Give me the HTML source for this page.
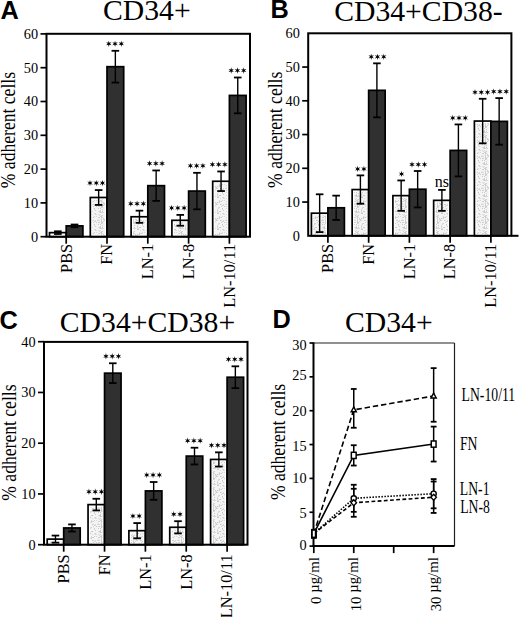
<!DOCTYPE html>
<html><head><meta charset="utf-8"><title>Adhesion of CD34+ cells</title>
<style>html,body{margin:0;padding:0;background:#fff;}body{width:520px;height:617px;overflow:hidden;font-family:"Liberation Sans",sans-serif;}svg{display:block;}</style>
</head><body>
<svg width="520" height="617" viewBox="0 0 520 617">
<rect width="520" height="617" fill="#fff"/>
<defs><pattern id="stip" patternUnits="userSpaceOnUse" width="16" height="16"><rect width="16" height="16" fill="#f4f4f4"/><rect x="4" y="2" width="1" height="1" fill="#cbcbcb"/><rect x="5" y="11" width="1" height="1" fill="#d2d2d2"/><rect x="8" y="12" width="1" height="1" fill="#cbcbcb"/><rect x="10" y="5" width="1" height="1" fill="#cbcbcb"/><rect x="5" y="15" width="1" height="1" fill="#cbcbcb"/><rect x="15" y="5" width="1" height="1" fill="#d2d2d2"/><rect x="2" y="6" width="1" height="1" fill="#dadada"/><rect x="6" y="15" width="1" height="1" fill="#dadada"/><rect x="14" y="13" width="1" height="1" fill="#d2d2d2"/><rect x="11" y="3" width="1" height="1" fill="#cbcbcb"/><rect x="15" y="12" width="1" height="1" fill="#dadada"/><rect x="11" y="15" width="1" height="1" fill="#d2d2d2"/><rect x="2" y="11" width="1" height="1" fill="#dadada"/><rect x="5" y="4" width="1" height="1" fill="#d2d2d2"/><rect x="5" y="7" width="1" height="1" fill="#dadada"/><rect x="6" y="14" width="1" height="1" fill="#cbcbcb"/><rect x="10" y="0" width="1" height="1" fill="#d2d2d2"/><rect x="13" y="9" width="1" height="1" fill="#cbcbcb"/><rect x="11" y="9" width="1" height="1" fill="#cbcbcb"/><rect x="15" y="13" width="1" height="1" fill="#dadada"/><rect x="10" y="15" width="1" height="1" fill="#dadada"/><rect x="15" y="2" width="1" height="1" fill="#cbcbcb"/><rect x="14" y="8" width="1" height="1" fill="#d2d2d2"/><rect x="5" y="14" width="1" height="1" fill="#cbcbcb"/><rect x="9" y="12" width="1" height="1" fill="#d2d2d2"/><rect x="7" y="10" width="1" height="1" fill="#d2d2d2"/><rect x="11" y="10" width="1" height="1" fill="#d2d2d2"/><rect x="5" y="13" width="1" height="1" fill="#cbcbcb"/><rect x="3" y="7" width="1" height="1" fill="#d2d2d2"/><rect x="3" y="4" width="1" height="1" fill="#dadada"/><rect x="2" y="12" width="1" height="1" fill="#dadada"/><rect x="4" y="0" width="1" height="1" fill="#cbcbcb"/><rect x="9" y="1" width="1" height="1" fill="#dadada"/><rect x="7" y="4" width="1" height="1" fill="#dadada"/><rect x="6" y="3" width="1" height="1" fill="#cbcbcb"/><rect x="5" y="8" width="1" height="1" fill="#cbcbcb"/><rect x="9" y="5" width="1" height="1" fill="#cbcbcb"/><rect x="3" y="12" width="1" height="1" fill="#dadada"/><rect x="9" y="3" width="1" height="1" fill="#dadada"/><rect x="14" y="5" width="1" height="1" fill="#dadada"/><rect x="9" y="2" width="1" height="1" fill="#cbcbcb"/><rect x="1" y="12" width="1" height="1" fill="#d2d2d2"/><rect x="14" y="0" width="1" height="1" fill="#cbcbcb"/><rect x="8" y="11" width="1" height="1" fill="#cbcbcb"/><rect x="7" y="11" width="1" height="1" fill="#d2d2d2"/><rect x="6" y="4" width="1" height="1" fill="#dadada"/><rect x="6" y="1" width="1" height="1" fill="#cbcbcb"/><rect x="13" y="12" width="1" height="1" fill="#d2d2d2"/><rect x="5" y="10" width="1" height="1" fill="#dadada"/><rect x="3" y="9" width="1" height="1" fill="#d2d2d2"/><rect x="3" y="3" width="1" height="1" fill="#d2d2d2"/><rect x="9" y="10" width="1" height="1" fill="#cbcbcb"/><rect x="2" y="9" width="1" height="1" fill="#d2d2d2"/><rect x="2" y="3" width="1" height="1" fill="#dadada"/><rect x="4" y="3" width="1" height="1" fill="#cbcbcb"/><rect x="0" y="14" width="1" height="1" fill="#cbcbcb"/><rect x="0" y="8" width="1" height="1" fill="#dadada"/><rect x="10" y="4" width="1" height="1" fill="#dadada"/><rect x="2" y="14" width="1" height="1" fill="#d2d2d2"/><rect x="12" y="6" width="1" height="1" fill="#dadada"/><rect x="6" y="9" width="1" height="1" fill="#dadada"/><rect x="13" y="14" width="1" height="1" fill="#d2d2d2"/><rect x="12" y="12" width="1" height="1" fill="#cbcbcb"/><rect x="3" y="14" width="1" height="1" fill="#cbcbcb"/><rect x="6" y="7" width="1" height="1" fill="#d2d2d2"/><rect x="4" y="4" width="1" height="1" fill="#cbcbcb"/><rect x="7" y="13" width="1" height="1" fill="#d2d2d2"/><rect x="12" y="9" width="1" height="1" fill="#dadada"/><rect x="2" y="0" width="1" height="1" fill="#cbcbcb"/><rect x="11" y="8" width="1" height="1" fill="#dadada"/><rect x="10" y="10" width="1" height="1" fill="#dadada"/><rect x="4" y="8" width="1" height="1" fill="#d2d2d2"/><rect x="15" y="6" width="1" height="1" fill="#dadada"/><rect x="0" y="6" width="1" height="1" fill="#dadada"/><rect x="12" y="3" width="1" height="1" fill="#cbcbcb"/><rect x="14" y="1" width="1" height="1" fill="#dadada"/><rect x="5" y="12" width="1" height="1" fill="#d2d2d2"/><rect x="5" y="9" width="1" height="1" fill="#cbcbcb"/><rect x="9" y="4" width="1" height="1" fill="#dadada"/><rect x="4" y="6" width="1" height="1" fill="#d2d2d2"/></pattern></defs>
<text x="0.6" y="18.6" font-family='"Liberation Sans", sans-serif' font-weight="bold" font-size="25.3">A</text>
<text x="270.6" y="17.6" font-family='"Liberation Sans", sans-serif' font-weight="bold" font-size="25.3">B</text>
<text x="-0.4" y="329.2" font-family='"Liberation Sans", sans-serif' font-weight="bold" font-size="25.3">C</text>
<text x="272.6" y="327.7" font-family='"Liberation Sans", sans-serif' font-weight="bold" font-size="25.3">D</text>
<text x="103" y="20.2" font-family='"Liberation Serif", serif' font-size="29.7" text-anchor="start">CD34+</text>
<text x="334.2" y="20.8" font-family='"Liberation Serif", serif' font-size="29.7" text-anchor="start">CD34+CD38-</text>
<text x="59.8" y="332.3" font-family='"Liberation Serif", serif' font-size="29.7" text-anchor="start">CD34+CD38+</text>
<text x="345" y="332.2" font-family='"Liberation Serif", serif' font-size="29.7" text-anchor="start">CD34+</text>
<text transform="translate(15.3,130.1) rotate(-90) scale(0.88,1)" font-family='"Liberation Serif", serif' font-size="20" text-anchor="middle">% adherent cells</text>
<text transform="translate(281.9,129.8) rotate(-90) scale(0.88,1)" font-family='"Liberation Serif", serif' font-size="20" text-anchor="middle">% adherent cells</text>
<text transform="translate(15.8,442.6) rotate(-90) scale(0.88,1)" font-family='"Liberation Serif", serif' font-size="20" text-anchor="middle">% adherent cells</text>
<text transform="translate(284.8,442) rotate(-90) scale(0.88,1)" font-family='"Liberation Serif", serif' font-size="20" text-anchor="middle">% adherent cells</text>
<rect x="49.5" y="232.64" width="16.7" height="4.06" fill="#fff" stroke="#000" stroke-width="1.7"/>
<rect x="51.6" y="234.74" width="12.5" height="1.96" fill="url(#stip)"/>
<rect x="66.2" y="225.88" width="16.7" height="10.82" fill="#303030" stroke="#000" stroke-width="1.7"/>
<rect x="90.3" y="197.49" width="16.7" height="39.21" fill="#fff" stroke="#000" stroke-width="1.7"/>
<rect x="92.4" y="199.59" width="12.5" height="37.11" fill="url(#stip)"/>
<rect x="107" y="66.69" width="16.7" height="170.01" fill="#303030" stroke="#000" stroke-width="1.7"/>
<rect x="131.1" y="216.76" width="16.7" height="19.94" fill="#fff" stroke="#000" stroke-width="1.7"/>
<rect x="133.2" y="218.86" width="12.5" height="17.84" fill="url(#stip)"/>
<rect x="147.8" y="185.66" width="16.7" height="51.04" fill="#303030" stroke="#000" stroke-width="1.7"/>
<rect x="171.9" y="220.31" width="16.7" height="16.39" fill="#fff" stroke="#000" stroke-width="1.7"/>
<rect x="174" y="222.41" width="12.5" height="14.29" fill="url(#stip)"/>
<rect x="188.6" y="191.07" width="16.7" height="45.63" fill="#303030" stroke="#000" stroke-width="1.7"/>
<rect x="212.7" y="181.27" width="16.7" height="55.43" fill="#fff" stroke="#000" stroke-width="1.7"/>
<rect x="214.8" y="183.37" width="12.5" height="53.33" fill="url(#stip)"/>
<rect x="229.4" y="95.42" width="16.7" height="141.28" fill="#303030" stroke="#000" stroke-width="1.7"/>
<line x1="57.85" y1="231.29" x2="57.85" y2="234" stroke="#000" stroke-width="1.4" />
<line x1="54.05" y1="231.29" x2="61.65" y2="231.29" stroke="#000" stroke-width="1.8" />
<line x1="54.05" y1="234" x2="61.65" y2="234" stroke="#000" stroke-width="1.8" />
<line x1="74.55" y1="224.53" x2="74.55" y2="227.24" stroke="#000" stroke-width="1.4" />
<line x1="70.75" y1="224.53" x2="78.35" y2="224.53" stroke="#000" stroke-width="1.8" />
<line x1="70.75" y1="227.24" x2="78.35" y2="227.24" stroke="#000" stroke-width="1.8" />
<line x1="98.65" y1="190.06" x2="98.65" y2="204.93" stroke="#000" stroke-width="1.4" />
<line x1="94.85" y1="190.06" x2="102.45" y2="190.06" stroke="#000" stroke-width="1.8" />
<line x1="94.85" y1="204.93" x2="102.45" y2="204.93" stroke="#000" stroke-width="1.8" />
<path d="M90,179.91L90.58,182.06L92.73,181.48L91.15,183.06L92.73,184.63L90.58,184.05L90,186.21L89.42,184.05L87.27,184.63L88.85,183.06L87.27,181.48L89.42,182.06ZM96.25,179.91L96.83,182.06L98.98,181.48L97.4,183.06L98.98,184.63L96.83,184.05L96.25,186.21L95.67,184.05L93.52,184.63L95.1,183.06L93.52,181.48L95.67,182.06ZM102.5,179.91L103.08,182.06L105.23,181.48L103.65,183.06L105.23,184.63L103.08,184.05L102.5,186.21L101.92,184.05L99.77,184.63L101.35,183.06L99.77,181.48L101.92,182.06Z" fill="#000"/>
<line x1="115.35" y1="50.8" x2="115.35" y2="82.57" stroke="#000" stroke-width="1.4" />
<line x1="111.55" y1="50.8" x2="119.15" y2="50.8" stroke="#000" stroke-width="1.8" />
<line x1="111.55" y1="82.57" x2="119.15" y2="82.57" stroke="#000" stroke-width="1.8" />
<path d="M108.8,40.65L109.38,42.8L111.53,42.22L109.95,43.8L111.53,45.37L109.38,44.8L108.8,46.95L108.22,44.8L106.07,45.37L107.65,43.8L106.07,42.22L108.22,42.8ZM115.05,40.65L115.62,42.8L117.78,42.22L116.2,43.8L117.78,45.37L115.62,44.8L115.05,46.95L114.47,44.8L112.32,45.37L113.9,43.8L112.32,42.22L114.47,42.8ZM121.3,40.65L121.88,42.8L124.03,42.22L122.45,43.8L124.03,45.37L121.88,44.8L121.3,46.95L120.72,44.8L118.57,45.37L120.15,43.8L118.57,42.22L120.72,42.8Z" fill="#000"/>
<line x1="139.45" y1="210.67" x2="139.45" y2="222.84" stroke="#000" stroke-width="1.4" />
<line x1="135.65" y1="210.67" x2="143.25" y2="210.67" stroke="#000" stroke-width="1.8" />
<line x1="135.65" y1="222.84" x2="143.25" y2="222.84" stroke="#000" stroke-width="1.8" />
<path d="M130.8,200.52L131.38,202.68L133.53,202.1L131.95,203.67L133.53,205.25L131.38,204.67L130.8,206.82L130.23,204.67L128.07,205.25L129.65,203.67L128.07,202.1L130.23,202.68ZM137.05,200.52L137.62,202.68L139.78,202.1L138.2,203.67L139.78,205.25L137.62,204.67L137.05,206.82L136.48,204.67L134.32,205.25L135.9,203.67L134.32,202.1L136.48,202.68ZM143.3,200.52L143.88,202.68L146.03,202.1L144.45,203.67L146.03,205.25L143.88,204.67L143.3,206.82L142.73,204.67L140.57,205.25L142.15,203.67L140.57,202.1L142.73,202.68Z" fill="#000"/>
<line x1="156.15" y1="170.45" x2="156.15" y2="200.87" stroke="#000" stroke-width="1.4" />
<line x1="152.35" y1="170.45" x2="159.95" y2="170.45" stroke="#000" stroke-width="1.8" />
<line x1="152.35" y1="200.87" x2="159.95" y2="200.87" stroke="#000" stroke-width="1.8" />
<path d="M149.6,160.3L150.17,162.46L152.33,161.88L150.75,163.45L152.33,165.03L150.17,164.45L149.6,166.6L149.03,164.45L146.87,165.03L148.45,163.45L146.87,161.88L149.03,162.46ZM155.85,160.3L156.42,162.46L158.58,161.88L157,163.45L158.58,165.03L156.42,164.45L155.85,166.6L155.28,164.45L153.12,165.03L154.7,163.45L153.12,161.88L155.28,162.46ZM162.1,160.3L162.67,162.46L164.83,161.88L163.25,163.45L164.83,165.03L162.67,164.45L162.1,166.6L161.53,164.45L159.37,165.03L160.95,163.45L159.37,161.88L161.53,162.46Z" fill="#000"/>
<line x1="180.25" y1="214.9" x2="180.25" y2="225.72" stroke="#000" stroke-width="1.4" />
<line x1="176.45" y1="214.9" x2="184.05" y2="214.9" stroke="#000" stroke-width="1.8" />
<line x1="176.45" y1="225.72" x2="184.05" y2="225.72" stroke="#000" stroke-width="1.8" />
<path d="M171.6,204.75L172.17,206.9L174.33,206.32L172.75,207.9L174.33,209.47L172.17,208.89L171.6,211.05L171.03,208.89L168.87,209.47L170.45,207.9L168.87,206.32L171.03,206.9ZM177.85,204.75L178.42,206.9L180.58,206.32L179,207.9L180.58,209.47L178.42,208.89L177.85,211.05L177.28,208.89L175.12,209.47L176.7,207.9L175.12,206.32L177.28,206.9ZM184.1,204.75L184.67,206.9L186.83,206.32L185.25,207.9L186.83,209.47L184.67,208.89L184.1,211.05L183.53,208.89L181.37,209.47L182.95,207.9L181.37,206.32L183.53,206.9Z" fill="#000"/>
<line x1="196.95" y1="172.82" x2="196.95" y2="209.32" stroke="#000" stroke-width="1.4" />
<line x1="193.15" y1="172.82" x2="200.75" y2="172.82" stroke="#000" stroke-width="1.8" />
<line x1="193.15" y1="209.32" x2="200.75" y2="209.32" stroke="#000" stroke-width="1.8" />
<path d="M190.4,162.67L190.97,164.82L193.13,164.24L191.55,165.82L193.13,167.39L190.97,166.81L190.4,168.97L189.82,166.81L187.67,167.39L189.25,165.82L187.67,164.24L189.82,164.82ZM196.65,162.67L197.22,164.82L199.38,164.24L197.8,165.82L199.38,167.39L197.22,166.81L196.65,168.97L196.07,166.81L193.92,167.39L195.5,165.82L193.92,164.24L196.07,164.82ZM202.9,162.67L203.47,164.82L205.63,164.24L204.05,165.82L205.63,167.39L203.47,166.81L202.9,168.97L202.32,166.81L200.17,167.39L201.75,165.82L200.17,164.24L202.32,164.82Z" fill="#000"/>
<line x1="221.05" y1="171.47" x2="221.05" y2="191.07" stroke="#000" stroke-width="1.4" />
<line x1="217.25" y1="171.47" x2="224.85" y2="171.47" stroke="#000" stroke-width="1.8" />
<line x1="217.25" y1="191.07" x2="224.85" y2="191.07" stroke="#000" stroke-width="1.8" />
<path d="M212.4,161.32L212.97,163.47L215.13,162.89L213.55,164.47L215.13,166.04L212.97,165.46L212.4,167.62L211.82,165.46L209.67,166.04L211.25,164.47L209.67,162.89L211.82,163.47ZM218.65,161.32L219.22,163.47L221.38,162.89L219.8,164.47L221.38,166.04L219.22,165.46L218.65,167.62L218.07,165.46L215.92,166.04L217.5,164.47L215.92,162.89L218.07,163.47ZM224.9,161.32L225.47,163.47L227.63,162.89L226.05,164.47L227.63,166.04L225.47,165.46L224.9,167.62L224.32,165.46L222.17,166.04L223.75,164.47L222.17,162.89L224.32,163.47Z" fill="#000"/>
<line x1="237.75" y1="77.5" x2="237.75" y2="113.33" stroke="#000" stroke-width="1.4" />
<line x1="233.95" y1="77.5" x2="241.55" y2="77.5" stroke="#000" stroke-width="1.8" />
<line x1="233.95" y1="113.33" x2="241.55" y2="113.33" stroke="#000" stroke-width="1.8" />
<path d="M231.2,67.35L231.77,69.51L233.93,68.93L232.35,70.5L233.93,72.08L231.77,71.5L231.2,73.65L230.62,71.5L228.47,72.08L230.05,70.5L228.47,68.93L230.62,69.51ZM237.45,67.35L238.02,69.51L240.18,68.93L238.6,70.5L240.18,72.08L238.02,71.5L237.45,73.65L236.87,71.5L234.72,72.08L236.3,70.5L234.72,68.93L236.87,69.51ZM243.7,67.35L244.27,69.51L246.43,68.93L244.85,70.5L246.43,72.08L244.27,71.5L243.7,73.65L243.12,71.5L240.97,72.08L242.55,70.5L240.97,68.93L243.12,69.51Z" fill="#000"/>
<rect x="46.5" y="33.8" width="203.5" height="202.9" fill="none" stroke="#000" stroke-width="2.0"/>
<line x1="66.2" y1="236.7" x2="66.2" y2="243.7" stroke="#000" stroke-width="1.7" />
<text transform="translate(71.5,243.8) rotate(-90)" font-family='"Liberation Serif", serif' font-size="16.4" text-anchor="end">PBS</text>
<line x1="107" y1="236.7" x2="107" y2="243.7" stroke="#000" stroke-width="1.7" />
<text transform="translate(112.3,243.8) rotate(-90)" font-family='"Liberation Serif", serif' font-size="16.4" text-anchor="end">FN</text>
<line x1="147.8" y1="236.7" x2="147.8" y2="243.7" stroke="#000" stroke-width="1.7" />
<text transform="translate(153.1,243.8) rotate(-90)" font-family='"Liberation Serif", serif' font-size="16.4" text-anchor="end">LN-1</text>
<line x1="188.6" y1="236.7" x2="188.6" y2="243.7" stroke="#000" stroke-width="1.7" />
<text transform="translate(193.9,243.8) rotate(-90)" font-family='"Liberation Serif", serif' font-size="16.4" text-anchor="end">LN-8</text>
<line x1="229.4" y1="236.7" x2="229.4" y2="243.7" stroke="#000" stroke-width="1.7" />
<text transform="translate(234.7,243.8) rotate(-90)" font-family='"Liberation Serif", serif' font-size="16.4" text-anchor="end">LN-10/11</text>
<line x1="40.5" y1="236.7" x2="46.5" y2="236.7" stroke="#000" stroke-width="1.7" />
<text x="38.1" y="241.5" font-family='"Liberation Serif", serif' font-size="14.3" text-anchor="end">0</text>
<line x1="40.5" y1="202.9" x2="46.5" y2="202.9" stroke="#000" stroke-width="1.7" />
<text x="38.1" y="207.7" font-family='"Liberation Serif", serif' font-size="14.3" text-anchor="end">10</text>
<line x1="40.5" y1="169.1" x2="46.5" y2="169.1" stroke="#000" stroke-width="1.7" />
<text x="38.1" y="173.9" font-family='"Liberation Serif", serif' font-size="14.3" text-anchor="end">20</text>
<line x1="40.5" y1="135.3" x2="46.5" y2="135.3" stroke="#000" stroke-width="1.7" />
<text x="38.1" y="140.1" font-family='"Liberation Serif", serif' font-size="14.3" text-anchor="end">30</text>
<line x1="40.5" y1="101.5" x2="46.5" y2="101.5" stroke="#000" stroke-width="1.7" />
<text x="38.1" y="106.3" font-family='"Liberation Serif", serif' font-size="14.3" text-anchor="end">40</text>
<line x1="40.5" y1="67.7" x2="46.5" y2="67.7" stroke="#000" stroke-width="1.7" />
<text x="38.1" y="72.5" font-family='"Liberation Serif", serif' font-size="14.3" text-anchor="end">50</text>
<line x1="40.5" y1="33.9" x2="46.5" y2="33.9" stroke="#000" stroke-width="1.7" />
<text x="38.1" y="38.7" font-family='"Liberation Serif", serif' font-size="14.3" text-anchor="end">60</text>
<rect x="311.4" y="213.19" width="16.5" height="22.61" fill="#fff" stroke="#000" stroke-width="1.7"/>
<rect x="313.5" y="215.29" width="12.3" height="20.51" fill="url(#stip)"/>
<rect x="327.9" y="207.79" width="16.5" height="28.01" fill="#303030" stroke="#000" stroke-width="1.7"/>
<rect x="352.15" y="189.56" width="16.5" height="46.24" fill="#fff" stroke="#000" stroke-width="1.7"/>
<rect x="354.25" y="191.66" width="12.3" height="44.14" fill="url(#stip)"/>
<rect x="368.65" y="90.34" width="16.5" height="145.46" fill="#303030" stroke="#000" stroke-width="1.7"/>
<rect x="392.9" y="195.64" width="16.5" height="40.16" fill="#fff" stroke="#000" stroke-width="1.7"/>
<rect x="395" y="197.74" width="12.3" height="38.06" fill="url(#stip)"/>
<rect x="409.4" y="189.23" width="16.5" height="46.57" fill="#303030" stroke="#000" stroke-width="1.7"/>
<rect x="433.65" y="200.36" width="16.5" height="35.44" fill="#fff" stroke="#000" stroke-width="1.7"/>
<rect x="435.75" y="202.46" width="12.3" height="33.34" fill="url(#stip)"/>
<rect x="450.15" y="150.41" width="16.5" height="85.39" fill="#303030" stroke="#000" stroke-width="1.7"/>
<rect x="474.4" y="121.05" width="16.5" height="114.75" fill="#fff" stroke="#000" stroke-width="1.7"/>
<rect x="476.5" y="123.15" width="12.3" height="112.65" fill="url(#stip)"/>
<rect x="490.9" y="121.39" width="16.5" height="114.41" fill="#303030" stroke="#000" stroke-width="1.7"/>
<line x1="319.65" y1="194.29" x2="319.65" y2="232.09" stroke="#000" stroke-width="1.4" />
<line x1="315.85" y1="194.29" x2="323.45" y2="194.29" stroke="#000" stroke-width="1.8" />
<line x1="315.85" y1="232.09" x2="323.45" y2="232.09" stroke="#000" stroke-width="1.8" />
<line x1="336.15" y1="195.64" x2="336.15" y2="219.94" stroke="#000" stroke-width="1.4" />
<line x1="332.35" y1="195.64" x2="339.95" y2="195.64" stroke="#000" stroke-width="1.8" />
<line x1="332.35" y1="219.94" x2="339.95" y2="219.94" stroke="#000" stroke-width="1.8" />
<line x1="360.4" y1="175.39" x2="360.4" y2="203.74" stroke="#000" stroke-width="1.4" />
<line x1="356.6" y1="175.39" x2="364.2" y2="175.39" stroke="#000" stroke-width="1.8" />
<line x1="356.6" y1="203.74" x2="364.2" y2="203.74" stroke="#000" stroke-width="1.8" />
<path d="M357.67,165.74L358.25,167.89L360.4,167.31L358.82,168.89L360.4,170.46L358.25,169.88L357.67,172.04L357.1,169.88L354.95,170.46L356.52,168.89L354.95,167.31L357.1,167.89ZM363.92,165.74L364.5,167.89L366.65,167.31L365.07,168.89L366.65,170.46L364.5,169.88L363.92,172.04L363.35,169.88L361.2,170.46L362.77,168.89L361.2,167.31L363.35,167.89Z" fill="#000"/>
<line x1="376.9" y1="63.34" x2="376.9" y2="117.34" stroke="#000" stroke-width="1.4" />
<line x1="373.1" y1="63.34" x2="380.7" y2="63.34" stroke="#000" stroke-width="1.8" />
<line x1="373.1" y1="117.34" x2="380.7" y2="117.34" stroke="#000" stroke-width="1.8" />
<path d="M371.25,53.69L371.82,55.84L373.98,55.26L372.4,56.84L373.98,58.41L371.82,57.83L371.25,59.99L370.68,57.83L368.52,58.41L370.1,56.84L368.52,55.26L370.68,55.84ZM377.5,53.69L378.07,55.84L380.23,55.26L378.65,56.84L380.23,58.41L378.07,57.83L377.5,59.99L376.93,57.83L374.77,58.41L376.35,56.84L374.77,55.26L376.93,55.84ZM383.75,53.69L384.32,55.84L386.48,55.26L384.9,56.84L386.48,58.41L384.32,57.83L383.75,59.99L383.18,57.83L381.02,58.41L382.6,56.84L381.02,55.26L383.18,55.84Z" fill="#000"/>
<line x1="401.15" y1="180.45" x2="401.15" y2="210.83" stroke="#000" stroke-width="1.4" />
<line x1="397.35" y1="180.45" x2="404.95" y2="180.45" stroke="#000" stroke-width="1.8" />
<line x1="397.35" y1="210.83" x2="404.95" y2="210.83" stroke="#000" stroke-width="1.8" />
<path d="M401.55,170.8L402.12,172.95L404.28,172.38L402.7,173.95L404.28,175.53L402.12,174.95L401.55,177.1L400.97,174.95L398.82,175.53L400.4,173.95L398.82,172.38L400.97,172.95Z" fill="#000"/>
<line x1="417.65" y1="171" x2="417.65" y2="207.45" stroke="#000" stroke-width="1.4" />
<line x1="413.85" y1="171" x2="421.45" y2="171" stroke="#000" stroke-width="1.8" />
<line x1="413.85" y1="207.45" x2="421.45" y2="207.45" stroke="#000" stroke-width="1.8" />
<path d="M412,161.35L412.57,163.5L414.73,162.93L413.15,164.5L414.73,166.07L412.57,165.5L412,167.65L411.43,165.5L409.27,166.07L410.85,164.5L409.27,162.93L411.43,163.5ZM418.25,161.35L418.82,163.5L420.98,162.93L419.4,164.5L420.98,166.07L418.82,165.5L418.25,167.65L417.68,165.5L415.52,166.07L417.1,164.5L415.52,162.93L417.68,163.5ZM424.5,161.35L425.07,163.5L427.23,162.93L425.65,164.5L427.23,166.07L425.07,165.5L424.5,167.65L423.93,165.5L421.77,166.07L423.35,164.5L421.77,162.93L423.93,163.5Z" fill="#000"/>
<line x1="441.9" y1="189.9" x2="441.9" y2="210.83" stroke="#000" stroke-width="1.4" />
<line x1="438.1" y1="189.9" x2="445.7" y2="189.9" stroke="#000" stroke-width="1.8" />
<line x1="438.1" y1="210.83" x2="445.7" y2="210.83" stroke="#000" stroke-width="1.8" />
<text x="441.9" y="187" font-family='"Liberation Serif", serif' font-size="16" text-anchor="middle">ns</text>
<line x1="458.4" y1="124.43" x2="458.4" y2="176.4" stroke="#000" stroke-width="1.4" />
<line x1="454.6" y1="124.43" x2="462.2" y2="124.43" stroke="#000" stroke-width="1.8" />
<line x1="454.6" y1="176.4" x2="462.2" y2="176.4" stroke="#000" stroke-width="1.8" />
<path d="M452.75,114.78L453.32,116.93L455.48,116.35L453.9,117.93L455.48,119.5L453.32,118.92L452.75,121.08L452.18,118.92L450.02,119.5L451.6,117.93L450.02,116.35L452.18,116.93ZM459,114.78L459.57,116.93L461.73,116.35L460.15,117.93L461.73,119.5L459.57,118.92L459,121.08L458.43,118.92L456.27,119.5L457.85,117.93L456.27,116.35L458.43,116.93ZM465.25,114.78L465.82,116.93L467.98,116.35L466.4,117.93L467.98,119.5L465.82,118.92L465.25,121.08L464.68,118.92L462.52,119.5L464.1,117.93L462.52,116.35L464.68,116.93Z" fill="#000"/>
<line x1="482.65" y1="98.78" x2="482.65" y2="143.33" stroke="#000" stroke-width="1.4" />
<line x1="478.85" y1="98.78" x2="486.45" y2="98.78" stroke="#000" stroke-width="1.8" />
<line x1="478.85" y1="143.33" x2="486.45" y2="143.33" stroke="#000" stroke-width="1.8" />
<path d="M475,89.12L475.57,91.28L477.73,90.7L476.15,92.28L477.73,93.85L475.57,93.27L475,95.43L474.43,93.27L472.27,93.85L473.85,92.28L472.27,90.7L474.43,91.28ZM481.25,89.12L481.82,91.28L483.98,90.7L482.4,92.28L483.98,93.85L481.82,93.27L481.25,95.43L480.68,93.27L478.52,93.85L480.1,92.28L478.52,90.7L480.68,91.28ZM487.5,89.12L488.07,91.28L490.23,90.7L488.65,92.28L490.23,93.85L488.07,93.27L487.5,95.43L486.93,93.27L484.77,93.85L486.35,92.28L484.77,90.7L486.93,91.28Z" fill="#000"/>
<line x1="499.15" y1="98.1" x2="499.15" y2="144.68" stroke="#000" stroke-width="1.4" />
<line x1="495.35" y1="98.1" x2="502.95" y2="98.1" stroke="#000" stroke-width="1.8" />
<line x1="495.35" y1="144.68" x2="502.95" y2="144.68" stroke="#000" stroke-width="1.8" />
<path d="M493.7,88.45L494.27,90.6L496.43,90.03L494.85,91.6L496.43,93.18L494.27,92.6L493.7,94.75L493.12,92.6L490.97,93.18L492.55,91.6L490.97,90.03L493.12,90.6ZM499.95,88.45L500.52,90.6L502.68,90.03L501.1,91.6L502.68,93.18L500.52,92.6L499.95,94.75L499.38,92.6L497.22,93.18L498.8,91.6L497.22,90.03L499.38,90.6ZM506.2,88.45L506.77,90.6L508.93,90.03L507.35,91.6L508.93,93.18L506.77,92.6L506.2,94.75L505.62,92.6L503.47,93.18L505.05,91.6L503.47,90.03L505.62,90.6Z" fill="#000"/>
<rect x="308.2" y="33.3" width="203.2" height="202.5" fill="none" stroke="#000" stroke-width="2.0"/>
<line x1="511.4" y1="235.8" x2="518.5" y2="235.8" stroke="#000" stroke-width="2.0" />
<line x1="327.9" y1="235.8" x2="327.9" y2="242.8" stroke="#000" stroke-width="1.7" />
<text transform="translate(333.2,243.8) rotate(-90)" font-family='"Liberation Serif", serif' font-size="16.4" text-anchor="end">PBS</text>
<line x1="368.65" y1="235.8" x2="368.65" y2="242.8" stroke="#000" stroke-width="1.7" />
<text transform="translate(373.95,243.8) rotate(-90)" font-family='"Liberation Serif", serif' font-size="16.4" text-anchor="end">FN</text>
<line x1="409.4" y1="235.8" x2="409.4" y2="242.8" stroke="#000" stroke-width="1.7" />
<text transform="translate(414.7,243.8) rotate(-90)" font-family='"Liberation Serif", serif' font-size="16.4" text-anchor="end">LN-1</text>
<line x1="450.15" y1="235.8" x2="450.15" y2="242.8" stroke="#000" stroke-width="1.7" />
<text transform="translate(455.45,243.8) rotate(-90)" font-family='"Liberation Serif", serif' font-size="16.4" text-anchor="end">LN-8</text>
<line x1="490.9" y1="235.8" x2="490.9" y2="242.8" stroke="#000" stroke-width="1.7" />
<text transform="translate(496.2,243.8) rotate(-90)" font-family='"Liberation Serif", serif' font-size="16.4" text-anchor="end">LN-10/11</text>
<text x="299.8" y="240.6" font-family='"Liberation Serif", serif' font-size="14.3" text-anchor="end">0</text>
<line x1="302.2" y1="202.05" x2="308.2" y2="202.05" stroke="#000" stroke-width="1.7" />
<text x="299.8" y="206.85" font-family='"Liberation Serif", serif' font-size="14.3" text-anchor="end">10</text>
<line x1="302.2" y1="168.3" x2="308.2" y2="168.3" stroke="#000" stroke-width="1.7" />
<text x="299.8" y="173.1" font-family='"Liberation Serif", serif' font-size="14.3" text-anchor="end">20</text>
<line x1="302.2" y1="134.55" x2="308.2" y2="134.55" stroke="#000" stroke-width="1.7" />
<text x="299.8" y="139.35" font-family='"Liberation Serif", serif' font-size="14.3" text-anchor="end">30</text>
<line x1="302.2" y1="100.8" x2="308.2" y2="100.8" stroke="#000" stroke-width="1.7" />
<text x="299.8" y="105.6" font-family='"Liberation Serif", serif' font-size="14.3" text-anchor="end">40</text>
<line x1="302.2" y1="67.05" x2="308.2" y2="67.05" stroke="#000" stroke-width="1.7" />
<text x="299.8" y="71.85" font-family='"Liberation Serif", serif' font-size="14.3" text-anchor="end">50</text>
<text x="299.8" y="38.1" font-family='"Liberation Serif", serif' font-size="14.3" text-anchor="end">60</text>
<rect x="47.2" y="539.12" width="16.5" height="5.58" fill="#fff" stroke="#000" stroke-width="1.7"/>
<rect x="49.3" y="541.22" width="12.3" height="3.48" fill="url(#stip)"/>
<rect x="63.7" y="527.95" width="16.5" height="16.75" fill="#303030" stroke="#000" stroke-width="1.7"/>
<rect x="88.05" y="504.61" width="16.5" height="40.09" fill="#fff" stroke="#000" stroke-width="1.7"/>
<rect x="90.15" y="506.71" width="12.3" height="37.99" fill="url(#stip)"/>
<rect x="104.55" y="373.17" width="16.5" height="171.53" fill="#303030" stroke="#000" stroke-width="1.7"/>
<rect x="128.9" y="530.69" width="16.5" height="14.01" fill="#fff" stroke="#000" stroke-width="1.7"/>
<rect x="131" y="532.79" width="12.3" height="11.91" fill="url(#stip)"/>
<rect x="145.4" y="490.91" width="16.5" height="53.8" fill="#303030" stroke="#000" stroke-width="1.7"/>
<rect x="169.75" y="527.29" width="16.5" height="17.41" fill="#fff" stroke="#000" stroke-width="1.7"/>
<rect x="171.85" y="529.39" width="12.3" height="15.31" fill="url(#stip)"/>
<rect x="186.25" y="456.09" width="16.5" height="88.61" fill="#303030" stroke="#000" stroke-width="1.7"/>
<rect x="210.6" y="459.44" width="16.5" height="85.26" fill="#fff" stroke="#000" stroke-width="1.7"/>
<rect x="212.7" y="461.54" width="12.3" height="83.16" fill="url(#stip)"/>
<rect x="227.1" y="377.23" width="16.5" height="167.48" fill="#303030" stroke="#000" stroke-width="1.7"/>
<line x1="55.45" y1="535.57" x2="55.45" y2="542.67" stroke="#000" stroke-width="1.4" />
<line x1="51.65" y1="535.57" x2="59.25" y2="535.57" stroke="#000" stroke-width="1.8" />
<line x1="51.65" y1="542.67" x2="59.25" y2="542.67" stroke="#000" stroke-width="1.8" />
<line x1="71.95" y1="524.4" x2="71.95" y2="531.5" stroke="#000" stroke-width="1.4" />
<line x1="68.15" y1="524.4" x2="75.75" y2="524.4" stroke="#000" stroke-width="1.8" />
<line x1="68.15" y1="531.5" x2="75.75" y2="531.5" stroke="#000" stroke-width="1.8" />
<line x1="96.3" y1="498.77" x2="96.3" y2="510.44" stroke="#000" stroke-width="1.4" />
<line x1="92.5" y1="498.77" x2="100.1" y2="498.77" stroke="#000" stroke-width="1.8" />
<line x1="92.5" y1="510.44" x2="100.1" y2="510.44" stroke="#000" stroke-width="1.8" />
<path d="M88.95,488.62L89.53,490.78L91.68,490.2L90.1,491.77L91.68,493.35L89.53,492.77L88.95,494.92L88.38,492.77L86.22,493.35L87.8,491.77L86.22,490.2L88.38,490.78ZM95.2,488.62L95.78,490.78L97.93,490.2L96.35,491.77L97.93,493.35L95.78,492.77L95.2,494.92L94.63,492.77L92.47,493.35L94.05,491.77L92.47,490.2L94.63,490.78ZM101.45,488.62L102.03,490.78L104.18,490.2L102.6,491.77L104.18,493.35L102.03,492.77L101.45,494.92L100.88,492.77L98.72,493.35L100.3,491.77L98.72,490.2L100.88,490.78Z" fill="#000"/>
<line x1="112.8" y1="363.27" x2="112.8" y2="383.06" stroke="#000" stroke-width="1.4" />
<line x1="109" y1="363.27" x2="116.6" y2="363.27" stroke="#000" stroke-width="1.8" />
<line x1="109" y1="383.06" x2="116.6" y2="383.06" stroke="#000" stroke-width="1.8" />
<path d="M105.95,353.12L106.53,355.27L108.68,354.69L107.1,356.27L108.68,357.84L106.53,357.26L105.95,359.42L105.38,357.26L103.22,357.84L104.8,356.27L103.22,354.69L105.38,355.27ZM112.2,353.12L112.78,355.27L114.93,354.69L113.35,356.27L114.93,357.84L112.78,357.26L112.2,359.42L111.63,357.26L109.47,357.84L111.05,356.27L109.47,354.69L111.63,355.27ZM118.45,353.12L119.03,355.27L121.18,354.69L119.6,356.27L121.18,357.84L119.03,357.26L118.45,359.42L117.88,357.26L115.72,357.84L117.3,356.27L115.72,354.69L117.88,355.27Z" fill="#000"/>
<line x1="137.15" y1="523.08" x2="137.15" y2="538.31" stroke="#000" stroke-width="1.4" />
<line x1="133.35" y1="523.08" x2="140.95" y2="523.08" stroke="#000" stroke-width="1.8" />
<line x1="133.35" y1="538.31" x2="140.95" y2="538.31" stroke="#000" stroke-width="1.8" />
<path d="M132.93,512.93L133.5,515.08L135.65,514.51L134.08,516.08L135.65,517.66L133.5,517.08L132.93,519.23L132.35,517.08L130.2,517.66L131.78,516.08L130.2,514.51L132.35,515.08ZM139.18,512.93L139.75,515.08L141.9,514.51L140.33,516.08L141.9,517.66L139.75,517.08L139.18,519.23L138.6,517.08L136.45,517.66L138.03,516.08L136.45,514.51L138.6,515.08Z" fill="#000"/>
<line x1="153.65" y1="482.02" x2="153.65" y2="499.79" stroke="#000" stroke-width="1.4" />
<line x1="149.85" y1="482.02" x2="157.45" y2="482.02" stroke="#000" stroke-width="1.8" />
<line x1="149.85" y1="499.79" x2="157.45" y2="499.79" stroke="#000" stroke-width="1.8" />
<path d="M146.8,471.87L147.38,474.03L149.53,473.45L147.95,475.02L149.53,476.6L147.38,476.02L146.8,478.17L146.23,476.02L144.07,476.6L145.65,475.02L144.07,473.45L146.23,474.03ZM153.05,471.87L153.62,474.03L155.78,473.45L154.2,475.02L155.78,476.6L153.62,476.02L153.05,478.17L152.48,476.02L150.32,476.6L151.9,475.02L150.32,473.45L152.48,474.03ZM159.3,471.87L159.88,474.03L162.03,473.45L160.45,475.02L162.03,476.6L159.88,476.02L159.3,478.17L158.73,476.02L156.57,476.6L158.15,475.02L156.57,473.45L158.73,474.03Z" fill="#000"/>
<line x1="178" y1="521.2" x2="178" y2="533.38" stroke="#000" stroke-width="1.4" />
<line x1="174.2" y1="521.2" x2="181.8" y2="521.2" stroke="#000" stroke-width="1.8" />
<line x1="174.2" y1="533.38" x2="181.8" y2="533.38" stroke="#000" stroke-width="1.8" />
<path d="M173.78,511.05L174.35,513.21L176.5,512.63L174.93,514.2L176.5,515.78L174.35,515.2L173.78,517.35L173.2,515.2L171.05,515.78L172.62,514.2L171.05,512.63L173.2,513.21ZM180.03,511.05L180.6,513.21L182.75,512.63L181.18,514.2L182.75,515.78L180.6,515.2L180.03,517.35L179.45,515.2L177.3,515.78L178.88,514.2L177.3,512.63L179.45,513.21Z" fill="#000"/>
<line x1="194.5" y1="447.72" x2="194.5" y2="464.46" stroke="#000" stroke-width="1.4" />
<line x1="190.7" y1="447.72" x2="198.3" y2="447.72" stroke="#000" stroke-width="1.8" />
<line x1="190.7" y1="464.46" x2="198.3" y2="464.46" stroke="#000" stroke-width="1.8" />
<path d="M187.65,437.57L188.22,439.72L190.38,439.14L188.8,440.72L190.38,442.29L188.22,441.71L187.65,443.87L187.08,441.71L184.92,442.29L186.5,440.72L184.92,439.14L187.08,439.72ZM193.9,437.57L194.47,439.72L196.63,439.14L195.05,440.72L196.63,442.29L194.47,441.71L193.9,443.87L193.33,441.71L191.17,442.29L192.75,440.72L191.17,439.14L193.33,439.72ZM200.15,437.57L200.72,439.72L202.88,439.14L201.3,440.72L202.88,442.29L200.72,441.71L200.15,443.87L199.58,441.71L197.42,442.29L199,440.72L197.42,439.14L199.58,439.72Z" fill="#000"/>
<line x1="218.85" y1="452.34" x2="218.85" y2="466.55" stroke="#000" stroke-width="1.4" />
<line x1="215.05" y1="452.34" x2="222.65" y2="452.34" stroke="#000" stroke-width="1.8" />
<line x1="215.05" y1="466.55" x2="222.65" y2="466.55" stroke="#000" stroke-width="1.8" />
<path d="M211.5,442.19L212.08,444.34L214.23,443.76L212.65,445.34L214.23,446.91L212.08,446.33L211.5,448.49L210.93,446.33L208.77,446.91L210.35,445.34L208.77,443.76L210.93,444.34ZM217.75,442.19L218.33,444.34L220.48,443.76L218.9,445.34L220.48,446.91L218.33,446.33L217.75,448.49L217.18,446.33L215.02,446.91L216.6,445.34L215.02,443.76L217.18,444.34ZM224,442.19L224.58,444.34L226.73,443.76L225.15,445.34L226.73,446.91L224.58,446.33L224,448.49L223.43,446.33L221.27,446.91L222.85,445.34L221.27,443.76L223.43,444.34Z" fill="#000"/>
<line x1="235.35" y1="366.31" x2="235.35" y2="388.14" stroke="#000" stroke-width="1.4" />
<line x1="231.55" y1="366.31" x2="239.15" y2="366.31" stroke="#000" stroke-width="1.8" />
<line x1="231.55" y1="388.14" x2="239.15" y2="388.14" stroke="#000" stroke-width="1.8" />
<path d="M228.5,356.16L229.08,358.32L231.23,357.74L229.65,359.31L231.23,360.89L229.08,360.31L228.5,362.46L227.93,360.31L225.77,360.89L227.35,359.31L225.77,357.74L227.93,358.32ZM234.75,356.16L235.33,358.32L237.48,357.74L235.9,359.31L237.48,360.89L235.33,360.31L234.75,362.46L234.18,360.31L232.02,360.89L233.6,359.31L232.02,357.74L234.18,358.32ZM241,356.16L241.58,358.32L243.73,357.74L242.15,359.31L243.73,360.89L241.58,360.31L241,362.46L240.43,360.31L238.27,360.89L239.85,359.31L238.27,357.74L240.43,358.32Z" fill="#000"/>
<rect x="44" y="341.9" width="203.5" height="202.8" fill="none" stroke="#000" stroke-width="2.0"/>
<line x1="63.7" y1="544.7" x2="63.7" y2="551.7" stroke="#000" stroke-width="1.7" />
<text transform="translate(69,554.3) rotate(-90)" font-family='"Liberation Serif", serif' font-size="16.4" text-anchor="end">PBS</text>
<line x1="104.55" y1="544.7" x2="104.55" y2="551.7" stroke="#000" stroke-width="1.7" />
<text transform="translate(109.85,554.3) rotate(-90)" font-family='"Liberation Serif", serif' font-size="16.4" text-anchor="end">FN</text>
<line x1="145.4" y1="544.7" x2="145.4" y2="551.7" stroke="#000" stroke-width="1.7" />
<text transform="translate(150.7,554.3) rotate(-90)" font-family='"Liberation Serif", serif' font-size="16.4" text-anchor="end">LN-1</text>
<line x1="186.25" y1="544.7" x2="186.25" y2="551.7" stroke="#000" stroke-width="1.7" />
<text transform="translate(191.55,554.3) rotate(-90)" font-family='"Liberation Serif", serif' font-size="16.4" text-anchor="end">LN-8</text>
<line x1="227.1" y1="544.7" x2="227.1" y2="551.7" stroke="#000" stroke-width="1.7" />
<text transform="translate(232.4,554.3) rotate(-90)" font-family='"Liberation Serif", serif' font-size="16.4" text-anchor="end">LN-10/11</text>
<line x1="38" y1="544.7" x2="44" y2="544.7" stroke="#000" stroke-width="1.7" />
<text x="35.6" y="549.5" font-family='"Liberation Serif", serif' font-size="14.3" text-anchor="end">0</text>
<line x1="38" y1="493.95" x2="44" y2="493.95" stroke="#000" stroke-width="1.7" />
<text x="35.6" y="498.75" font-family='"Liberation Serif", serif' font-size="14.3" text-anchor="end">10</text>
<line x1="38" y1="443.2" x2="44" y2="443.2" stroke="#000" stroke-width="1.7" />
<text x="35.6" y="448" font-family='"Liberation Serif", serif' font-size="14.3" text-anchor="end">20</text>
<line x1="38" y1="392.45" x2="44" y2="392.45" stroke="#000" stroke-width="1.7" />
<text x="35.6" y="397.25" font-family='"Liberation Serif", serif' font-size="14.3" text-anchor="end">30</text>
<line x1="38" y1="341.7" x2="44" y2="341.7" stroke="#000" stroke-width="1.7" />
<text x="35.6" y="346.5" font-family='"Liberation Serif", serif' font-size="14.3" text-anchor="end">40</text>
<line x1="313.5" y1="343" x2="454.5" y2="343" stroke="#222" stroke-width="1.2" />
<line x1="454.5" y1="343" x2="454.5" y2="546.1" stroke="#222" stroke-width="1.2" />
<line x1="313.5" y1="342.4" x2="313.5" y2="547.1" stroke="#000" stroke-width="2.0" />
<line x1="312.5" y1="546.1" x2="454.5" y2="546.1" stroke="#000" stroke-width="2.0" />
<line x1="309.5" y1="546.1" x2="313.5" y2="546.1" stroke="#000" stroke-width="1.7" />
<text x="306.6" y="549.9" font-family='"Liberation Serif", serif' font-size="14.3" text-anchor="end">0</text>
<line x1="309.5" y1="512.25" x2="313.5" y2="512.25" stroke="#000" stroke-width="1.7" />
<text x="306.6" y="517.55" font-family='"Liberation Serif", serif' font-size="14.3" text-anchor="end">5</text>
<line x1="309.5" y1="478.4" x2="313.5" y2="478.4" stroke="#000" stroke-width="1.7" />
<text x="306.6" y="483" font-family='"Liberation Serif", serif' font-size="14.3" text-anchor="end">10</text>
<line x1="309.5" y1="444.55" x2="313.5" y2="444.55" stroke="#000" stroke-width="1.7" />
<text x="306.6" y="450.65" font-family='"Liberation Serif", serif' font-size="14.3" text-anchor="end">15</text>
<line x1="309.5" y1="410.7" x2="313.5" y2="410.7" stroke="#000" stroke-width="1.7" />
<text x="306.6" y="415.9" font-family='"Liberation Serif", serif' font-size="14.3" text-anchor="end">20</text>
<line x1="309.5" y1="376.85" x2="313.5" y2="376.85" stroke="#000" stroke-width="1.7" />
<text x="306.6" y="379.75" font-family='"Liberation Serif", serif' font-size="14.3" text-anchor="end">25</text>
<line x1="309.5" y1="343" x2="313.5" y2="343" stroke="#000" stroke-width="1.7" />
<text x="306.6" y="349.9" font-family='"Liberation Serif", serif' font-size="14.3" text-anchor="end">30</text>
<line x1="313.8" y1="546.1" x2="313.8" y2="553.1" stroke="#000" stroke-width="1.7" />
<line x1="353.75" y1="546.1" x2="353.75" y2="553.1" stroke="#000" stroke-width="1.7" />
<line x1="393.7" y1="546.1" x2="393.7" y2="553.1" stroke="#000" stroke-width="1.7" />
<line x1="433.65" y1="546.1" x2="433.65" y2="553.1" stroke="#000" stroke-width="1.7" />
<polyline points="313.8,533.58 353.75,409.82 433.65,396.01" fill="none" stroke="#000" stroke-width="1.6" stroke-dasharray="5.4,2.9"/>
<polyline points="313.8,533.58 353.75,455.38 433.65,444.08" fill="none" stroke="#000" stroke-width="1.6" />
<polyline points="313.8,533.58 353.75,498.3 433.65,493.7" fill="none" stroke="#000" stroke-width="1.6" stroke-dasharray="1.5,1.5"/>
<polyline points="313.8,533.58 353.75,502.77 433.65,497.22" fill="none" stroke="#000" stroke-width="1.6" stroke-dasharray="3.8,2.4"/>
<line x1="353.75" y1="388.97" x2="353.75" y2="427.76" stroke="#000" stroke-width="1.5" />
<line x1="350.85" y1="388.97" x2="356.65" y2="388.97" stroke="#000" stroke-width="1.8" />
<line x1="350.85" y1="427.76" x2="356.65" y2="427.76" stroke="#000" stroke-width="1.8" />
<line x1="433.65" y1="368.12" x2="433.65" y2="421.74" stroke="#000" stroke-width="1.5" />
<line x1="430.75" y1="368.12" x2="436.55" y2="368.12" stroke="#000" stroke-width="1.8" />
<line x1="430.75" y1="421.74" x2="436.55" y2="421.74" stroke="#000" stroke-width="1.8" />
<line x1="353.75" y1="445.23" x2="353.75" y2="465.54" stroke="#000" stroke-width="1.5" />
<line x1="350.85" y1="445.23" x2="356.65" y2="445.23" stroke="#000" stroke-width="1.8" />
<line x1="350.85" y1="465.54" x2="356.65" y2="465.54" stroke="#000" stroke-width="1.8" />
<line x1="433.65" y1="426.61" x2="433.65" y2="461.54" stroke="#000" stroke-width="1.5" />
<line x1="430.75" y1="426.61" x2="436.55" y2="426.61" stroke="#000" stroke-width="1.8" />
<line x1="430.75" y1="461.54" x2="436.55" y2="461.54" stroke="#000" stroke-width="1.8" />
<line x1="353.75" y1="484.76" x2="353.75" y2="511.84" stroke="#000" stroke-width="1.5" />
<line x1="350.85" y1="484.76" x2="356.65" y2="484.76" stroke="#000" stroke-width="1.8" />
<line x1="350.85" y1="511.84" x2="356.65" y2="511.84" stroke="#000" stroke-width="1.8" />
<line x1="433.65" y1="479.08" x2="433.65" y2="508.32" stroke="#000" stroke-width="1.5" />
<line x1="430.75" y1="479.08" x2="436.55" y2="479.08" stroke="#000" stroke-width="1.8" />
<line x1="430.75" y1="508.32" x2="436.55" y2="508.32" stroke="#000" stroke-width="1.8" />
<line x1="353.75" y1="488.76" x2="353.75" y2="516.79" stroke="#000" stroke-width="1.5" />
<line x1="350.85" y1="488.76" x2="356.65" y2="488.76" stroke="#000" stroke-width="1.8" />
<line x1="350.85" y1="516.79" x2="356.65" y2="516.79" stroke="#000" stroke-width="1.8" />
<line x1="433.65" y1="481.51" x2="433.65" y2="512.93" stroke="#000" stroke-width="1.5" />
<line x1="430.75" y1="481.51" x2="436.55" y2="481.51" stroke="#000" stroke-width="1.8" />
<line x1="430.75" y1="512.93" x2="436.55" y2="512.93" stroke="#000" stroke-width="1.8" />
<rect x="311.9" y="529.88" width="3.8" height="7.6" fill="#fff" stroke="#000" stroke-width="1.8"/>
<polygon points="353.75,406.92 356.35,411.82 351.15,411.82" fill="#fff" stroke="#000" stroke-width="1.4"/>
<polygon points="433.65,393.11 436.25,398.01 431.05,398.01" fill="#fff" stroke="#000" stroke-width="1.4"/>
<rect x="311.9" y="529.88" width="3.8" height="7.6" fill="#fff" stroke="#000" stroke-width="1.8"/>
<rect x="351.35" y="452.28" width="4.8" height="6.2" fill="#fff" stroke="#000" stroke-width="1.5"/>
<rect x="431.25" y="440.98" width="4.8" height="6.2" fill="#fff" stroke="#000" stroke-width="1.5"/>
<rect x="311.9" y="529.88" width="3.8" height="7.6" fill="#fff" stroke="#000" stroke-width="1.8"/>
<circle cx="353.75" cy="498.3" r="2.6" fill="#fff" stroke="#000" stroke-width="1.4"/>
<circle cx="433.65" cy="493.7" r="2.6" fill="#fff" stroke="#000" stroke-width="1.4"/>
<rect x="311.9" y="529.88" width="3.8" height="7.6" fill="#fff" stroke="#000" stroke-width="1.8"/>
<polygon points="353.75,499.77 356.55,502.77 353.75,505.77 350.95,502.77" fill="#fff" stroke="#000" stroke-width="1.3"/>
<polygon points="433.65,494.22 436.45,497.22 433.65,500.22 430.85,497.22" fill="#fff" stroke="#000" stroke-width="1.3"/>
<text transform="translate(318.5,557.2) rotate(-90)" font-family='"Liberation Serif", serif' font-size="14.8" text-anchor="end"><tspan dy="2.5">0</tspan><tspan dy="-2.5"> µg/ml</tspan></text>
<text transform="translate(358.45,557.2) rotate(-90)" font-family='"Liberation Serif", serif' font-size="14.8" text-anchor="end"><tspan dy="2.5">10</tspan><tspan dy="-2.5"> µg/ml</tspan></text>
<text transform="translate(438.35,557.2) rotate(-90)" font-family='"Liberation Serif", serif' font-size="14.8" text-anchor="end"><tspan dy="2.5">30</tspan><tspan dy="-2.5"> µg/ml</tspan></text>
<text transform="translate(461.6,400.8) scale(0.745,1)" font-family='"Liberation Serif", serif' font-size="18.4">LN-10/11</text>
<text transform="translate(460,449.7) scale(0.745,1)" font-family='"Liberation Serif", serif' font-size="18.4">FN</text>
<text transform="translate(459.8,494.7) scale(0.745,1)" font-family='"Liberation Serif", serif' font-size="18.4">LN-1</text>
<text transform="translate(460.2,512.9) scale(0.745,1)" font-family='"Liberation Serif", serif' font-size="18.4">LN-8</text>
</svg>
</body></html>
